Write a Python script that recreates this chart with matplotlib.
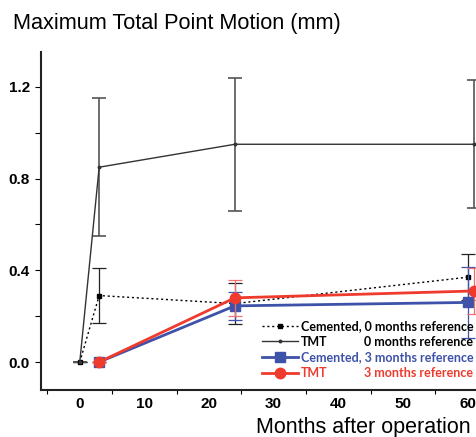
import matplotlib.pyplot as plt
from matplotlib.ticker import MultipleLocator

# months after operation and mean maximum total point motion (mm)
months_cem0 = [0, 3, 24, 60]
cem0 = [0.0, 0.29, 0.255, 0.37]
cem0_err = [0.0, 0.12, 0.09, 0.10]

months_tmt0 = [0, 3, 24, 61]
tmt0 = [0.0, 0.85, 0.95, 0.95]
tmt0_err = [0.0, 0.30, 0.29, 0.28]

months_cem3 = [3, 24, 60]
cem3 = [0.0, 0.245, 0.26]
cem3_err = [0.0, 0.06, 0.155]

months_tmt3 = [3, 24, 61]
tmt3 = [0.0, 0.28, 0.31]
tmt3_err = [0.0, 0.08, 0.10]

labels = ['Cemented, 0 months reference', 'TMT',
          'Cemented, 3 months reference', 'TMT']
second_col = {1: '0 months reference', 3: '3 months reference'}

blue = '#3d52a8'
red = '#ef3a2e'

fig = plt.figure(figsize=(4.76, 4.37), dpi=100)
ax = fig.add_axes([41 / 476, 47 / 437, (493.4 - 41) / 476, 338 / 437])

l1 = ax.errorbar(months_cem0, cem0, yerr=cem0_err, color='black', lw=1,
                 ls=(0, (1.5, 2)), marker='s', ms=2.5, elinewidth=0.9,
                 capsize=5, capthick=0.9, ecolor='#222222')
l2 = ax.errorbar(months_tmt0, tmt0, yerr=tmt0_err, color='#333333', lw=1,
                 marker='o', ms=1.8, elinewidth=1.2, capsize=5,
                 capthick=1.2, ecolor='#555555')
l3 = ax.errorbar(months_cem3, cem3, yerr=cem3_err, color=blue, lw=2,
                 marker='s', ms=7, elinewidth=0.9, capsize=5,
                 capthick=0.9, ecolor=blue, zorder=3)
l4 = ax.errorbar(months_tmt3, tmt3, yerr=tmt3_err, color=red, lw=2,
                 marker='o', ms=7.5, elinewidth=0.9, capsize=5,
                 capthick=0.9, ecolor='#f07070', zorder=4)

ax.set_xlim(-6, 64)
ax.set_ylim(-0.122, 1.3525)

ax.spines['top'].set_visible(False)
ax.spines['right'].set_visible(False)
ax.spines['left'].set_linewidth(1.5)
ax.spines['bottom'].set_linewidth(1.5)
ax.spines['left'].set_color('#222222')
ax.spines['bottom'].set_color('#222222')

ax.xaxis.set_major_locator(MultipleLocator(10))
ax.set_xticks([-5, 5, 15, 25, 35, 45, 55], minor=True)
ax.tick_params(axis='x', which='major', length=0, pad=5)
ax.tick_params(axis='x', which='minor', length=3, width=0.8)
ax.yaxis.set_major_locator(MultipleLocator(0.4))
ax.yaxis.set_minor_locator(MultipleLocator(0.2))
ax.tick_params(axis='y', which='both', length=4, width=0.8, pad=4)
ax.set_yticks([0.0, 0.4, 0.8, 1.2])
ax.set_yticklabels(['0.0', '0.4', '0.8', '1.2'])
for t in ax.get_xticklabels() + ax.get_yticklabels():
    t.set_fontfamily('Liberation Sans')
    t.set_fontweight('bold')
    t.set_fontsize(11)

fig.text(13 / 476, 1 - 23 / 437, 'Maximum Total Point Motion (mm)',
         family='Liberation Sans', fontsize=15.6, va='center', ha='left')
fig.text(256 / 476, 1 - 427 / 437, 'Months after operation',
         family='Liberation Sans', fontsize=15.5, va='center', ha='left')

# legend handles without the error bars
handles = [l1[0], l2[0], l3[0], l4[0]]
leg = ax.legend(handles, labels, loc='upper left',
                bbox_to_anchor=(262 / 476, 1 - 320 / 437),
                bbox_transform=fig.transFigure, frameon=False,
                borderpad=0, borderaxespad=0, handlelength=2.9,
                handletextpad=0.2, labelspacing=0.3,
                prop={'family': 'Lato', 'weight': 'bold', 'size': 9})
texts = leg.get_texts()
texts[2].set_color(blue)
texts[3].set_color(red)

fig.canvas.draw()
renderer = fig.canvas.get_renderer()
inv = fig.transFigure.inverted()
x_right = texts[0].get_window_extent(renderer).x1
for i, s in second_col.items():
    bb = texts[i].get_window_extent(renderer)
    xr, yc = inv.transform((x_right, (bb.y0 + bb.y1) / 2))
    fig.text(xr, yc, s, ha='right', va='center', family='Lato',
             weight='bold', size=9, color=texts[i].get_color())

fig.savefig('out.png', dpi=100)
